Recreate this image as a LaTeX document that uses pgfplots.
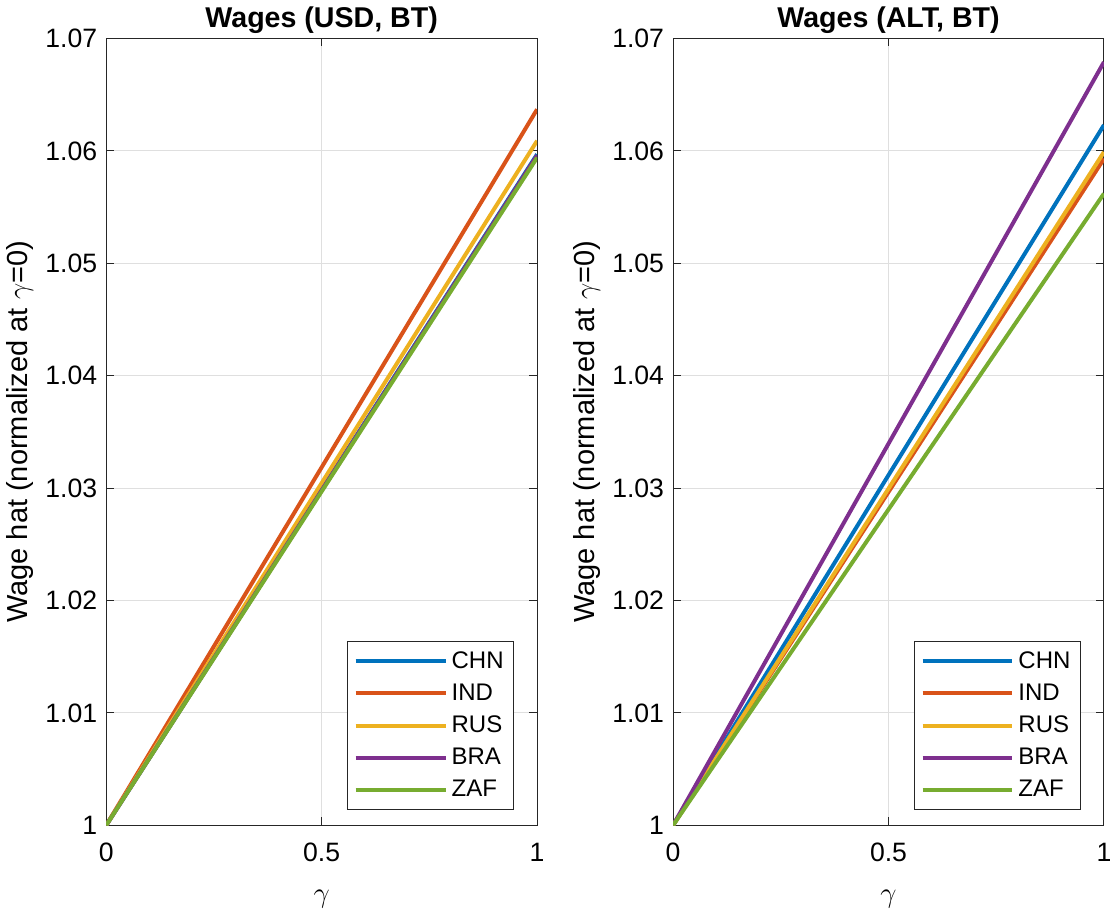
\documentclass[border=0pt]{standalone}
\usepackage{pgfplots}
\pgfplotsset{compat=1.18}
\usepackage{fontspec}
\setmainfont{Liberation Sans}
\definecolor{mblue}{rgb}{0,0.447,0.741}
\definecolor{morange}{rgb}{0.85,0.325,0.098}
\definecolor{myellow}{rgb}{0.929,0.694,0.125}
\definecolor{mpurple}{rgb}{0.494,0.184,0.556}
\definecolor{mgreen}{rgb}{0.466,0.674,0.188}
\definecolor{axgray}{rgb}{0.15,0.15,0.15}
\pgfplotsset{
  mstyle/.style={
    width=215.5pt, height=393.5pt, scale only axis,
    xmin=0, xmax=1, ymin=1, ymax=1.07,
    xtick={0,0.5,1}, ytick={1,1.01,1.02,1.03,1.04,1.05,1.06,1.07},
    yticklabel style={/pgf/number format/fixed, xshift=-1pt},
    xticklabel style={yshift=-5.5pt},
    /pgf/number format/assume math mode=true,
    tick align=inside, tick pos=both,
    major tick length=4pt,
    every tick/.style={axgray, line width=0.5pt},
    axis line style={axgray, line width=0.5pt},
    grid=major, grid style={gray!25, line width=0.5pt},
    tick label style={font=\fontsize{13.3}{15}\selectfont},
    title style={font=\fontsize{14.3}{16}\selectfont\bfseries, yshift=-7pt},
    xlabel={$\gamma$}, xlabel style={font=\fontsize{14.5}{16}\selectfont, yshift=-7pt},
    ylabel={Wage hat (normalized at $\gamma$=0)},
    ylabel style={font=\fontsize{14.5}{16}\selectfont, yshift=-1pt},
    legend cell align=left,
    legend style={at={(1,0)}, anchor=south east, xshift=-11.5pt, yshift=7.5pt,
      font=\fontsize{12}{13}\selectfont, draw=axgray, line width=0.5pt,
      inner xsep=3pt, inner ysep=3pt, row sep=2.3pt},
    legend image code/.code={\draw[#1, line width=2pt] (0pt,0pt) -- (45pt,0pt);},
    every axis plot/.append style={line width=2pt},
  }
}
\begin{document}
\begin{tikzpicture}
\begin{axis}[mstyle, title={Wages (USD, BT)}]
\addplot[mblue] coordinates {(0,1) (1,1.0597)};
\addplot[morange] coordinates {(0,1) (1,1.0637)};
\addplot[myellow] coordinates {(0,1) (1,1.0609)};
\addplot[mpurple] coordinates {(0,1) (1,1.0596)};
\addplot[mgreen] coordinates {(0,1) (1,1.0594)};
\legend{CHN,IND,RUS,BRA,ZAF}
\end{axis}
\begin{axis}[mstyle, xshift=283.5pt, title={Wages (ALT, BT)}]
\addplot[mblue] coordinates {(0,1) (1,1.0623)};
\addplot[morange] coordinates {(0,1) (1,1.0593)};
\addplot[myellow] coordinates {(0,1) (1,1.0599)};
\addplot[mpurple] coordinates {(0,1) (1,1.0679)};
\addplot[mgreen] coordinates {(0,1) (1,1.0562)};
\legend{CHN,IND,RUS,BRA,ZAF}
\end{axis}
\end{tikzpicture}
\end{document}
